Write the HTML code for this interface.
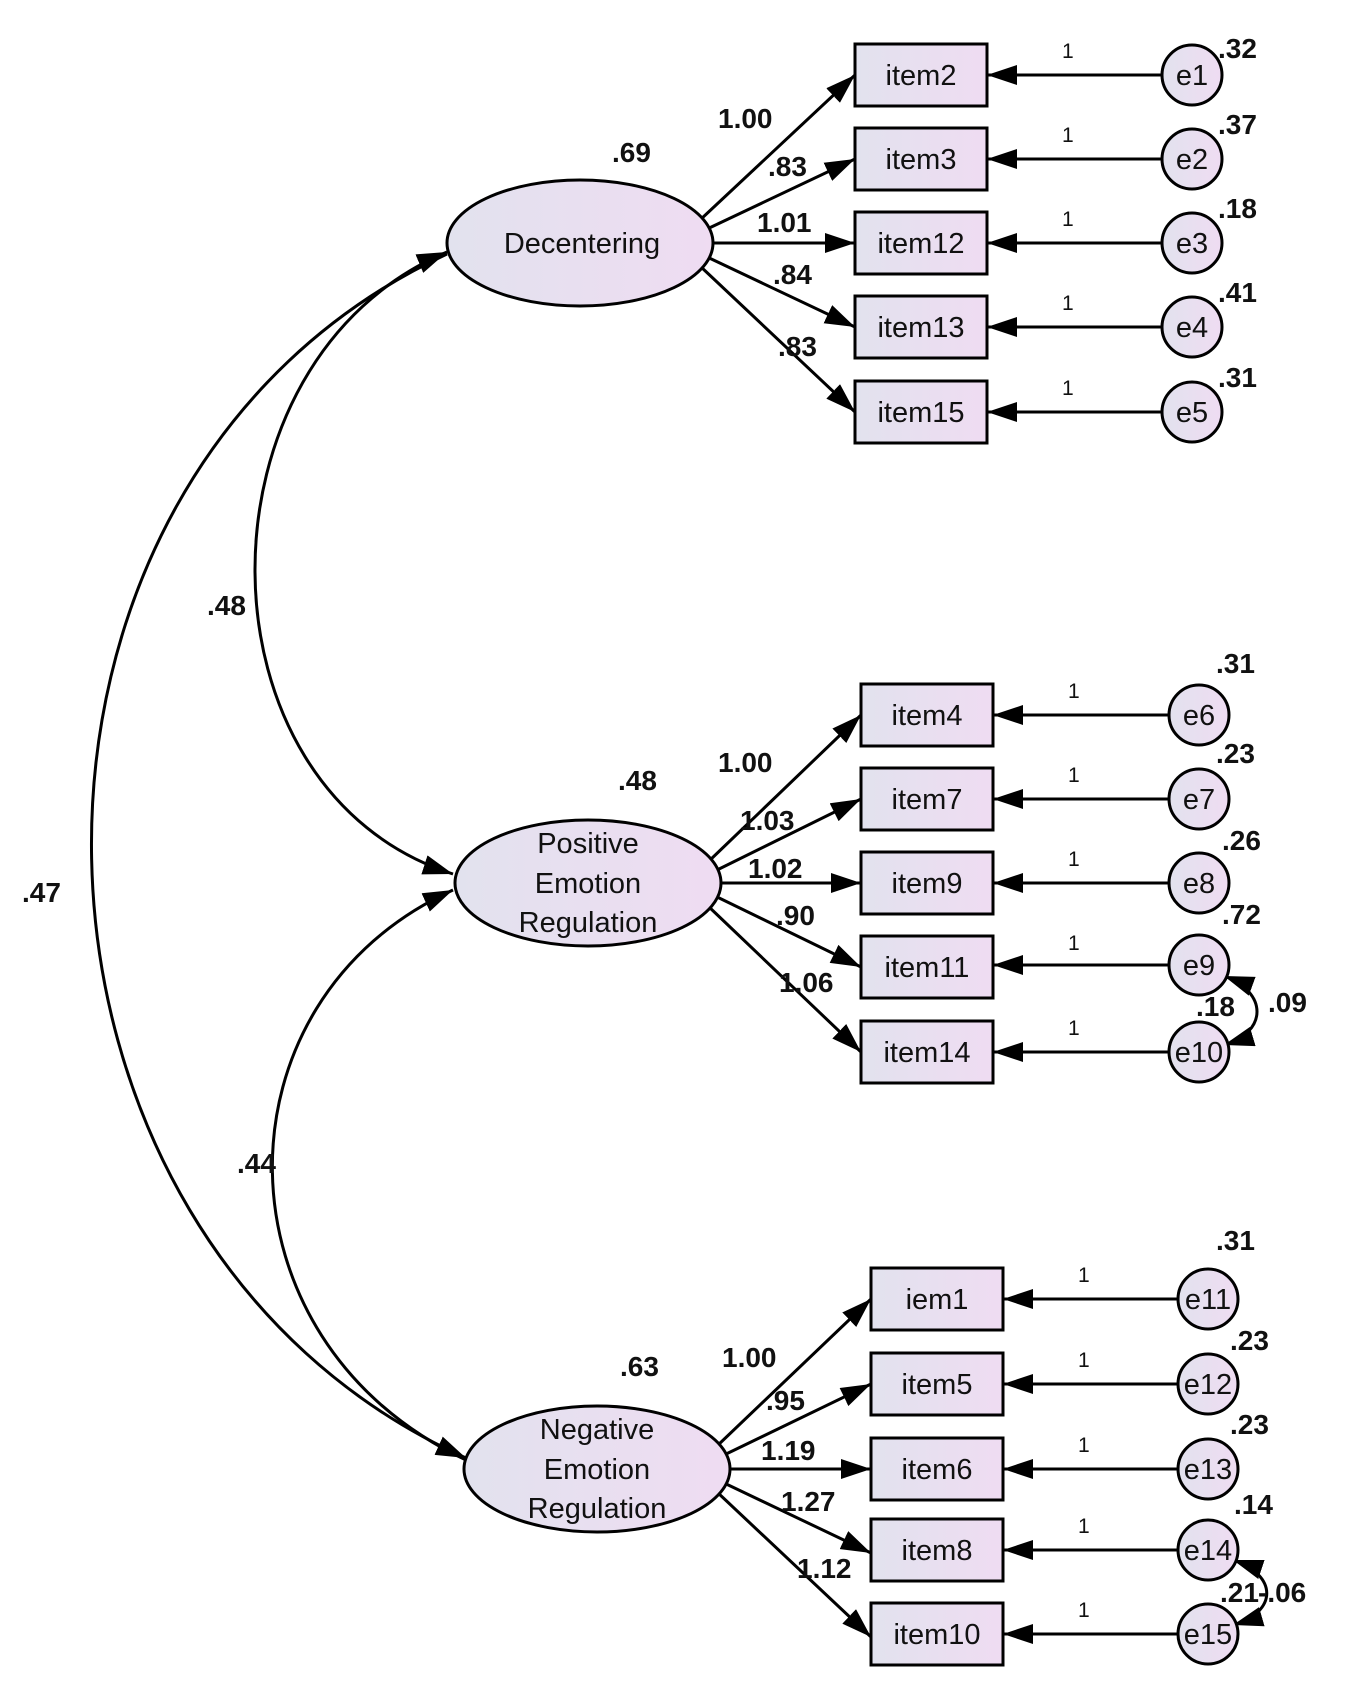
<!DOCTYPE html>
<html><head><meta charset="utf-8"><style>
html,body{margin:0;padding:0;background:#fff;}
svg{display:block;}
text{font-family:"Liberation Sans",sans-serif;fill:#111;}
.n{font-size:29px;text-anchor:middle;}
.v{font-size:28px;font-weight:bold;}
.o{font-size:21px;}
</style></head><body>
<svg width="1350" height="1704" viewBox="0 0 1350 1704" xmlns="http://www.w3.org/2000/svg">
<defs>
<linearGradient id="g" x1="0" x2="1" y1="0" y2="0"><stop offset="0" stop-color="#e2e2ee"/><stop offset="1" stop-color="#efdcf2"/></linearGradient>
<marker id="a" viewBox="0 0 30 20" refX="30" refY="10" markerWidth="30" markerHeight="20" markerUnits="userSpaceOnUse" orient="auto-start-reverse"><path d="M0,0 L30,10 L0,20 z" fill="#000"/></marker>
</defs>
<g stroke="#000" stroke-width="3" fill="none">
<path d="M447,252 C190,360 190,790 453,874" marker-start="url(#a)" marker-end="url(#a)"/>
<path d="M447,254 C-40,480 -20,1240 466,1458" marker-end="url(#a)"/>
<path d="M453,890 C210,1000 210,1340 466,1460" marker-start="url(#a)"/>
<g marker-end="url(#a)">
<path d="M700,220 L855,75"/><path d="M705,230 L855,159"/><path d="M710,243 L855,243"/><path d="M705,256 L855,327"/><path d="M700,266 L855,412"/>
<path d="M708,862 L861,715"/><path d="M713,872 L861,799"/><path d="M718,883 L861,883"/><path d="M713,895 L861,967"/><path d="M708,906 L861,1052"/>
<path d="M717,1446 L871,1299"/><path d="M722,1456 L871,1384"/><path d="M727,1469 L871,1469"/><path d="M722,1482 L871,1553"/><path d="M717,1492 L871,1637"/>
<path d="M1162,75 L987,75"/><path d="M1162,159 L987,159"/><path d="M1162,243 L987,243"/><path d="M1162,327 L987,327"/><path d="M1162,412 L987,412"/>
<path d="M1169,715 L993,715"/><path d="M1169,799 L993,799"/><path d="M1169,883 L993,883"/><path d="M1169,965 L993,965"/><path d="M1169,1052 L993,1052"/>
<path d="M1178,1299 L1003,1299"/><path d="M1178,1384 L1003,1384"/><path d="M1178,1469 L1003,1469"/><path d="M1178,1550 L1003,1550"/><path d="M1178,1634 L1003,1634"/>
</g>
<path d="M1224,976 C1268,992 1268,1032 1224,1045" marker-start="url(#a)" marker-end="url(#a)"/>
<path d="M1233,1560 C1278,1575 1278,1612 1233,1625" marker-start="url(#a)" marker-end="url(#a)"/>
</g>
<g fill="url(#g)" stroke="#000" stroke-width="3">
<ellipse cx="580" cy="243" rx="133" ry="63"/>
<ellipse cx="588" cy="883" rx="133" ry="63"/>
<ellipse cx="597" cy="1469" rx="133" ry="63"/>
</g>
<text class="n" x="582" y="253">Decentering</text>
<text class="n" x="588" y="853">Positive</text><text class="n" x="588" y="893">Emotion</text><text class="n" x="588" y="932">Regulation</text>
<text class="n" x="597" y="1439">Negative</text><text class="n" x="597" y="1479">Emotion</text><text class="n" x="597" y="1518">Regulation</text>
<g fill="url(#g)" stroke="#000" stroke-width="3">
<rect x="855" y="44" width="132" height="62"/><rect x="855" y="128" width="132" height="62"/><rect x="855" y="212" width="132" height="62"/><rect x="855" y="296" width="132" height="62"/><rect x="855" y="381" width="132" height="62"/>
<rect x="861" y="684" width="132" height="62"/><rect x="861" y="768" width="132" height="62"/><rect x="861" y="852" width="132" height="62"/><rect x="861" y="936" width="132" height="62"/><rect x="861" y="1021" width="132" height="62"/>
<rect x="871" y="1268" width="132" height="62"/><rect x="871" y="1353" width="132" height="62"/><rect x="871" y="1438" width="132" height="62"/><rect x="871" y="1519" width="132" height="62"/><rect x="871" y="1603" width="132" height="62"/>
</g>
<text class="n" x="921" y="85">item2</text><text class="n" x="921" y="169">item3</text><text class="n" x="921" y="253">item12</text><text class="n" x="921" y="337">item13</text><text class="n" x="921" y="422">item15</text>
<text class="n" x="927" y="725">item4</text><text class="n" x="927" y="809">item7</text><text class="n" x="927" y="893">item9</text><text class="n" x="927" y="977">item11</text><text class="n" x="927" y="1062">item14</text>
<text class="n" x="937" y="1309">iem1</text><text class="n" x="937" y="1394">item5</text><text class="n" x="937" y="1479">item6</text><text class="n" x="937" y="1560">item8</text><text class="n" x="937" y="1644">item10</text>
<g fill="url(#g)" stroke="#000" stroke-width="3">
<circle cx="1192" cy="75" r="30"/><circle cx="1192" cy="159" r="30"/><circle cx="1192" cy="243" r="30"/><circle cx="1192" cy="327" r="30"/><circle cx="1192" cy="412" r="30"/>
<circle cx="1199" cy="715" r="30"/><circle cx="1199" cy="799" r="30"/><circle cx="1199" cy="883" r="30"/><circle cx="1199" cy="965" r="30"/><circle cx="1199" cy="1052" r="30"/>
<circle cx="1208" cy="1299" r="30"/><circle cx="1208" cy="1384" r="30"/><circle cx="1208" cy="1469" r="30"/><circle cx="1208" cy="1550" r="30"/><circle cx="1208" cy="1634" r="30"/>
</g>
<text class="n" x="1192" y="85">e1</text><text class="n" x="1192" y="169">e2</text><text class="n" x="1192" y="253">e3</text><text class="n" x="1192" y="337">e4</text><text class="n" x="1192" y="422">e5</text>
<text class="n" x="1199" y="725">e6</text><text class="n" x="1199" y="809">e7</text><text class="n" x="1199" y="893">e8</text><text class="n" x="1199" y="975">e9</text><text class="n" x="1199" y="1062">e10</text>
<text class="n" x="1208" y="1309">e11</text><text class="n" x="1208" y="1394">e12</text><text class="n" x="1208" y="1479">e13</text><text class="n" x="1208" y="1560">e14</text><text class="n" x="1208" y="1644">e15</text>
<g class="o">
<text x="1062" y="58">1</text><text x="1062" y="142">1</text><text x="1062" y="226">1</text><text x="1062" y="310">1</text><text x="1062" y="395">1</text>
<text x="1068" y="698">1</text><text x="1068" y="782">1</text><text x="1068" y="866">1</text><text x="1068" y="950">1</text><text x="1068" y="1035">1</text>
<text x="1078" y="1282">1</text><text x="1078" y="1367">1</text><text x="1078" y="1452">1</text><text x="1078" y="1533">1</text><text x="1078" y="1617">1</text>
</g>
<g class="v">
<text x="1218" y="58">.32</text><text x="1218" y="134">.37</text><text x="1218" y="218">.18</text><text x="1218" y="302">.41</text><text x="1218" y="387">.31</text>
<text x="1216" y="673">.31</text><text x="1216" y="763">.23</text><text x="1222" y="850">.26</text><text x="1222" y="924">.72</text>
<text x="1196" y="1016">.18</text><text x="1268" y="1012">.09</text>
<text x="1216" y="1250">.31</text><text x="1230" y="1350">.23</text><text x="1230" y="1434">.23</text><text x="1234" y="1514">.14</text>
<text x="1220" y="1602">.21</text><text x="1258" y="1602">-.06</text>
<text x="612" y="162">.69</text><text x="618" y="790">.48</text><text x="620" y="1376">.63</text>
<text x="207" y="615">.48</text><text x="22" y="902">.47</text><text x="237" y="1173">.44</text>
<text x="718" y="128">1.00</text><text x="768" y="176">.83</text><text x="757" y="232">1.01</text><text x="773" y="284">.84</text><text x="778" y="356">.83</text>
<text x="718" y="772">1.00</text><text x="740" y="830">1.03</text><text x="748" y="878">1.02</text><text x="776" y="925">.90</text><text x="779" y="992">1.06</text>
<text x="722" y="1367">1.00</text><text x="766" y="1410">.95</text><text x="761" y="1460">1.19</text><text x="781" y="1511">1.27</text><text x="797" y="1578">1.12</text>
</g>
</svg>
</body></html>
